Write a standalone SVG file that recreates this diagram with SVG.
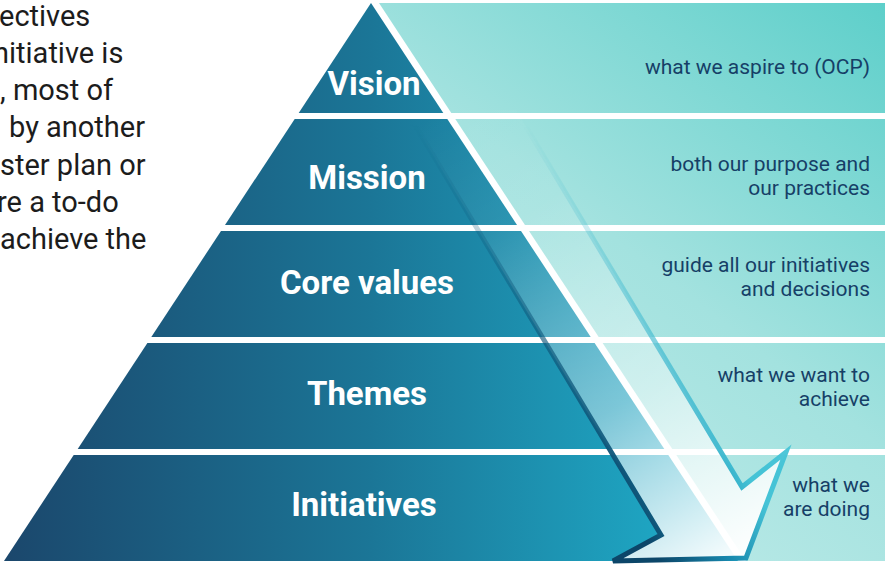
<svg xmlns="http://www.w3.org/2000/svg" width="886" height="565" viewBox="0 0 886 565">
  <defs>
    <linearGradient id="pyrGrad" gradientUnits="userSpaceOnUse" x1="4" y1="0" x2="738" y2="0">
      <stop offset="0" stop-color="#1b476c"/>
      <stop offset="0.5" stop-color="#1b7697"/>
      <stop offset="1" stop-color="#1fb2ce"/>
    </linearGradient>
    <linearGradient id="panelGrad" gradientUnits="userSpaceOnUse" x1="450" y1="560" x2="885" y2="0">
      <stop offset="0" stop-color="#c6edeb"/>
      <stop offset="0.5" stop-color="#a3e2df"/>
      <stop offset="1" stop-color="#5dcfca"/>
    </linearGradient>
    <linearGradient id="arrowFill" gradientUnits="userSpaceOnUse" x1="455" y1="100" x2="725" y2="560">
      <stop offset="0" stop-color="#ffffff" stop-opacity="0"/>
      <stop offset="0.25" stop-color="#ffffff" stop-opacity="0.07"/>
      <stop offset="0.45" stop-color="#ffffff" stop-opacity="0.25"/>
      <stop offset="0.65" stop-color="#ffffff" stop-opacity="0.42"/>
      <stop offset="0.87" stop-color="#ffffff" stop-opacity="0.75"/>
      <stop offset="1" stop-color="#ffffff" stop-opacity="0.96"/>
    </linearGradient>
    <linearGradient id="arrowStroke" gradientUnits="userSpaceOnUse" x1="650" y1="545" x2="753" y2="483">
      <stop offset="0" stop-color="#0c4669"/>
      <stop offset="0.5" stop-color="#1787ad"/>
      <stop offset="1" stop-color="#45c3d6"/>
    </linearGradient>
    <linearGradient id="fadeGrad" gradientUnits="userSpaceOnUse" x1="0" y1="125" x2="0" y2="470">
      <stop offset="0" stop-color="#000000"/>
      <stop offset="0.3" stop-color="#444444"/>
      <stop offset="0.65" stop-color="#aaaaaa"/>
      <stop offset="1" stop-color="#ffffff"/>
    </linearGradient>
    <mask id="fadeMask" maskUnits="userSpaceOnUse" x="0" y="0" width="886" height="565">
      <rect x="0" y="0" width="886" height="565" fill="url(#fadeGrad)"/>
    </mask>
  </defs>
  <style>
    .intro { font-family: Roboto, "Liberation Sans", sans-serif; font-size: 29px; fill: #1c1c1c; }
    .tier { fill: url(#pyrGrad); }
    .panel { fill: url(#panelGrad); }
    .tierLabel { font-family: Roboto, "Liberation Sans", sans-serif; font-size: 33px; font-weight: bold; fill: #ffffff; text-anchor: middle; }
    .desc { font-family: Roboto, "Liberation Sans", sans-serif; font-size: 21px; fill: #163f67; text-anchor: end; }
  </style>
  <rect x="0" y="0" width="886" height="565" fill="#ffffff"/>

  <g id="intro-text">
    <text class="intro" x="-1" y="26">ectives</text>
    <text class="intro" x="-7" y="63">nitiative is</text>
    <text class="intro" x="0" y="100">, most of</text>
    <text class="intro" x="9" y="137">by another</text>
    <text class="intro" x="0" y="175">ster plan or</text>
    <text class="intro" x="-3" y="212">re a to-do</text>
    <text class="intro" x="0" y="249">achieve the</text>
  </g>

  <g id="vision">
    <polygon class="tier" points="371,3 443.3,113 298.7,113"/>
    <polygon class="panel" points="379,3 885,3 885,113 451.3,113"/>
    <text class="tierLabel" x="374" y="95">Vision</text>
    <text class="desc" x="870" y="74">what we aspire to (OCP)</text>
  </g>

  <g id="mission">
    <polygon class="tier" points="294.7,119 447.3,119 517,225 225,225"/>
    <polygon class="panel" points="455.3,119 885,119 885,225 525,225"/>
    <text class="tierLabel" x="367" y="189">Mission</text>
    <text class="desc" x="870" y="171">both our purpose and</text>
    <text class="desc" x="870" y="195">our practices</text>
  </g>

  <g id="core-values">
    <polygon class="tier" points="221,231 521,231 590.7,337 151.3,337"/>
    <polygon class="panel" points="529,231 885,231 885,337 598.7,337"/>
    <text class="tierLabel" x="367" y="294">Core values</text>
    <text class="desc" x="870" y="272">guide all our initiatives</text>
    <text class="desc" x="870" y="296">and decisions</text>
  </g>

  <g id="themes">
    <polygon class="tier" points="147.4,343 594.6,343 664.3,449 77.7,449"/>
    <polygon class="panel" points="602.6,343 885,343 885,449 672.3,449"/>
    <text class="tierLabel" x="367" y="405">Themes</text>
    <text class="desc" x="870" y="382">what we want to</text>
    <text class="desc" x="870" y="406">achieve</text>
  </g>

  <g id="initiatives">
    <polygon class="tier" points="73.7,455 668.3,455 738,561 4,561"/>
    <polygon class="panel" points="676.3,455 885,455 885,561 746,561"/>
    <text class="tierLabel" x="364" y="516">Initiatives</text>
    <text class="desc" x="870" y="492">what we</text>
    <text class="desc" x="870" y="516">are doing</text>
  </g>

  <g id="connectors">
    <polygon points="406,110 516,110 742,487 786,452 746,558 613,561 661,535" fill="url(#arrowFill)"/>
    <polygon points="406,110 516,110 742,487 786,452 746,558 613,561 661,535" fill="none" stroke="url(#arrowStroke)" stroke-width="5" stroke-linejoin="miter" mask="url(#fadeMask)"/>
  </g>
</svg>
